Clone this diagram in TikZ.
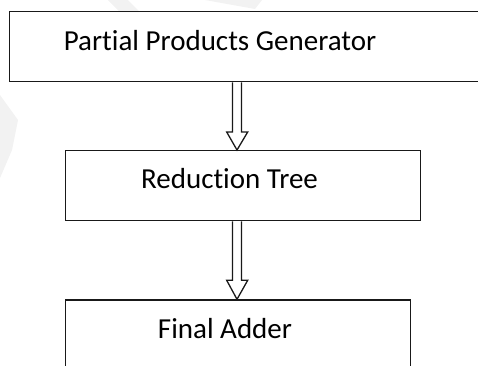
\documentclass[tikz,border=0pt]{standalone}
\usepackage{fontspec}
\setmainfont{Carlito}[Ligatures={NoCommon}]
\usetikzlibrary{calc}

\tikzset{
  block/.style={draw=black!90, line width=1.4bp, rectangle, inner sep=0pt},
  caption/.style={font=\fontsize{29bp}{34bp}\selectfont, inner sep=0pt, anchor=base},
  blockarrow/.style={draw=black!90, line width=1.3bp, line join=miter, fill=white},
  shade/.style={fill=black!5, draw=none}
}

\begin{document}
\begin{tikzpicture}[x=1bp, y=-1bp]
  \useasboundingbox (0,0) rectangle (478,365);
  \clip (0,0) rectangle (478,365);

  % faint background marks
  \fill[shade] (108,0) -- (128,0) -- (140,12) -- (120,12) -- cycle;
  \fill[shade] (205,0) -- (262,0) -- (255,9) -- cycle;
  \fill[shade] (0,95) -- (18,120) -- (12,150) -- (0,178) -- cycle;

  % blocks
  \node[block, minimum width=490bp, minimum height=70bp, anchor=north west] (gen) at (9,11) {};
  \node[block, minimum width=355bp, minimum height=70bp, anchor=north west] (red) at (65,150) {};
  \node[block, minimum width=345bp, minimum height=90bp, anchor=north west] (add) at (65,299.3) {};

  % captions
  \node[caption] (gentxt) at (220,50) {Partial Products Generator};
  \node[caption] (redtxt) at (229.5,188) {Reduction Tree};
  \node[caption] (addtxt) at (225,338) {Final Adder};

  % hollow arrows between the blocks
  \coordinate (s1) at (gen.south -| 237,0);
  \coordinate (t1) at (red.north -| 237,0);
  \coordinate (s2) at (red.south -| 237,0);
  \coordinate (t2) at (add.north -| 237,0);

  \draw[blockarrow] ($(s1)+(-4.5,0)$) -- ($(t1)+(-4.5,-18)$) -- ($(t1)+(-10.3,-18)$)
    -- (t1) -- ($(t1)+(10.7,-18)$) -- ($(t1)+(4.5,-18)$) -- ($(s1)+(4.5,0)$);
  \draw[blockarrow] ($(s2)+(-4.5,0)$) -- ($(t2)+(-4.5,-19)$) -- ($(t2)+(-10.3,-19)$)
    -- (t2) -- ($(t2)+(10.7,-19)$) -- ($(t2)+(4.5,-19)$) -- ($(s2)+(4.5,0)$);
\end{tikzpicture}
\end{document}
